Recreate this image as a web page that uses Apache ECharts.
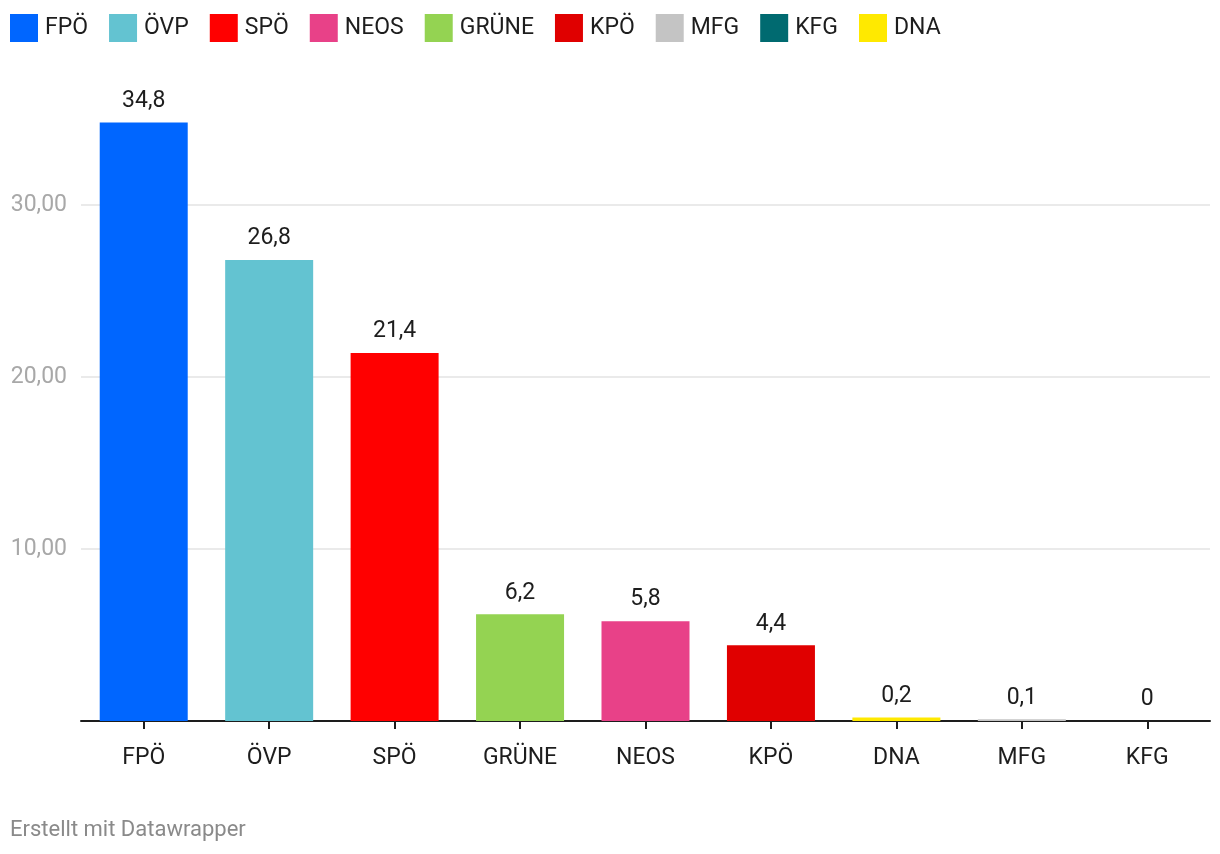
<!DOCTYPE html>
<html>
<head>
<meta charset="utf-8">
<script src="https://cdn.jsdelivr.net/npm/echarts@6/dist/echarts.min.js"></script>
<style>
html,body{margin:0;padding:0;background:#fff;}
#chart{width:1220px;height:854px;}
</style>
</head>
<body>
<div id="chart"></div>
<script>
const categories = ['FPÖ','ÖVP','SPÖ','GRÜNE','NEOS','KPÖ','DNA','MFG','KFG'];
const values = [34.8, 26.8, 21.4, 6.2, 5.8, 4.4, 0.2, 0.1, 0];
const legendOrder = ['FPÖ','ÖVP','SPÖ','NEOS','GRÜNE','KPÖ','MFG','KFG','DNA'];
const partyColors = {
  'FPÖ':'#0066ff','ÖVP':'#63c3d1','SPÖ':'#ff0000','NEOS':'#e84188','GRÜNE':'#94d352',
  'KPÖ':'#e00000','MFG':'#c4c4c4','KFG':'#006a70','DNA':'#ffe900'
};
const yTicks = [0, 10, 20, 30];

const FONT = 'Roboto';
const series = legendOrder.map(name => {
  const idx = categories.indexOf(name);
  return {
    name: name,
    type: 'bar',
    stack: 'all',
    barWidth: 88,
    itemStyle: { color: partyColors[name] },
    label: {
      show: true, position: 'top', distance: 10,
      fontFamily: FONT, fontSize: 23, color: '#1d1d1d',
      formatter: p => String(p.value).replace('.', ',')
    },
    data: categories.map((c, i) => i === idx ? values[i] : '-')
  };
});

const chart = echarts.init(document.getElementById('chart'));
chart.setOption({
  animation: false,
  textStyle: { fontFamily: FONT },
  legend: {
    data: legendOrder, left: 10, top: 14, padding: 0, itemWidth: 28, itemHeight: 28, itemGap: 21,
    icon: 'rect',
    textStyle: { fontFamily: FONT, fontSize: 23, color: '#1d1d1d', padding: [0,0,0,2] }
  },
  graphic: [{
    type: 'text', left: 10, top: 819,
    style: { text: 'Erstellt mit Datawrapper', fontFamily: FONT, fontSize: 22, fill: '#8a8a8a' }
  }],
  grid: { left: 81, right: 10, top: 119, bottom: 133 },
  xAxis: {
    type: 'category', data: categories,
    axisLine: { lineStyle: { color: '#1d1d1d', width: 2 } },
    axisTick: { show: true, alignWithLabel: true, length: 8, lineStyle: { color: '#1d1d1d', width: 2 } },
    axisLabel: { margin: 26, fontFamily: FONT, fontSize: 23, color: '#1d1d1d' }
  },
  yAxis: {
    type: 'value', min: yTicks[0], max: 35, interval: 10,
    axisLine: { show: false }, axisTick: { show: false },
    axisLabel: {
      margin: 14, fontFamily: FONT, fontSize: 23, color: '#a8a8a8', showMinLabel: false, showMaxLabel: false,
      formatter: v => v.toFixed(2).replace('.', ',')
    },
    splitLine: { showMinLine: false, showMaxLine: false, lineStyle: { color: '#e3e3e3', width: 1.5 } }
  },
  series: series
});
</script>
</body>
</html>
